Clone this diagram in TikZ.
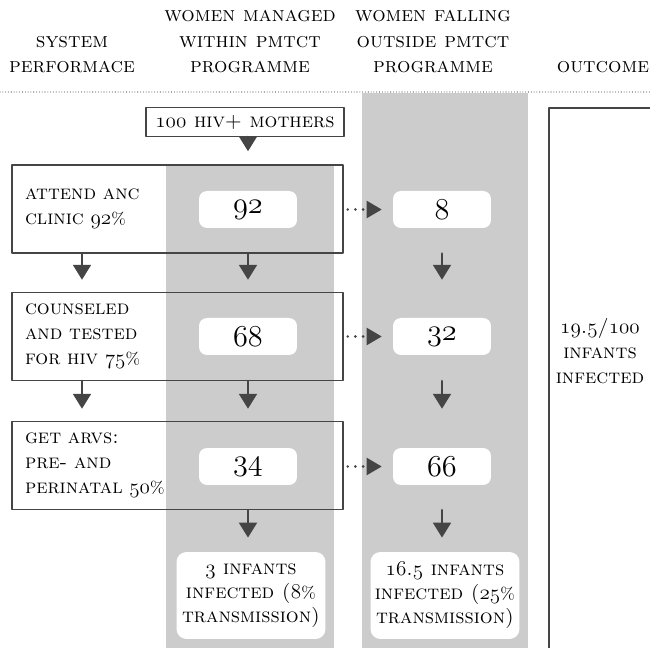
\documentclass[tikz, border = 0pt]{standalone}
\usetikzlibrary{arrows.meta}

\definecolor{colgray}{HTML}{CCCCCC}
\definecolor{ink}{HTML}{454545}

% old style figures from the math italic font
\newcommand{\os}[1]{{\usefont{OML}{cmm}{m}{it}#1}}
\newcommand{\pct}{\scalebox{0.82}{\%}}

\tikzset{
  headtext/.style = {anchor = south, align = center, inner sep = 0,
    font = \fontsize{12}{14.4}\selectfont\scshape},
  stagebox/.style = {draw = ink, line width = 0.8pt, minimum width = 6.62cm,
    minimum height = 1.76cm, text width = 6.1cm, inner xsep = 0.26cm,
    align = left, font = \fontsize{11.5}{14.2}\selectfont\scshape},
  countbox/.style = {fill = white, rounded corners = 0.16cm,
    minimum width = 1.96cm, minimum height = 0.74cm,
    font = \fontsize{17}{20}\selectfont},
  infantbox/.style = {fill = white, rounded corners = 0.2cm, align = center,
    minimum width = 2.98cm, minimum height = 1.74cm, inner sep = 0,
    font = \fontsize{11.5}{13.6}\selectfont\scshape},
  flow/.style = {ink, line width = 1.7pt,
    -{Triangle[width = 10pt, length = 8.5pt]}},
  spill/.style = {ink, line width = 1.6pt, dash pattern = on 0pt off 4.4pt,
    -{Triangle[width = 10pt, length = 8.5pt, line width = 0pt]}}
}

\begin{document}
\begin{tikzpicture}[x = 0.02cm, y = -0.02cm, line cap = round, line join = round]
  \useasboundingbox (0, 0) rectangle (650, 648);

  \fill[colgray] (166, 165) rectangle (334, 648);
  \fill[colgray] (362, 93) rectangle (528, 648);

  % headings
  \node[headtext] (hsystem) at (72, 73) {system\\performace};
  \node[headtext] (hwithin) at (250, 73) {women managed\\within pmtct\\programme};
  \node[headtext] (houtside) at (433, 73) {women falling\\outside pmtct\\programme};
  \node[headtext] (houtcome) at (603, 73) {outcome};

  \draw[ink, line width = 0.6pt, dash pattern = on 0pt off 1.6pt] (0, 92) -- (650, 92);

  % outcome column
  \draw[ink, line width = 0.8pt] (650, 108) -- (549, 108) -- (549, 648);
  \node[align = center, font = \fontsize{11.5}{14.2}\selectfont\scshape] (total)
    at (600, 351) {\os{19}.\os{5}/\os{100}\\infants\\infected};

  \node[draw = ink, line width = 0.8pt, minimum width = 3.96cm,
    minimum height = 0.58cm, inner sep = 0,
    font = \fontsize{11.5}{14.2}\selectfont\scshape] (mothers)
    at (245, 122) {\os{100} hiv+ mothers};

  % stages
  \node[stagebox] (attend) at (177.5, 209) {attend anc\\clinic \os{92}\pct};
  \node[stagebox] (counsel) at (177.5, 336.5) {counseled\\and tested\\for hiv \os{75}\pct};
  \node[stagebox] (arvs) at (177.5, 465.5) {get arvs:\\pre- and\\perinatal \os{50}\pct};

  \node[countbox] (in92) at (248, 209.5) {\os{92}};
  \node[countbox] (out8) at (442, 209.5) {\os{8}};
  \node[countbox] (in68) at (248, 336.5) {\os{68}};
  \node[countbox] (out32) at (442, 336.5) {\os{32}};
  \node[countbox] (in34) at (248, 466.5) {\os{34}};
  \node[countbox] (out66) at (442, 466.5) {\os{66}};

  \node[infantbox] (ininf) at (251, 595.5)
    {\os{3} infants\\infected (\os{8}\pct\\transmission)};
  \node[infantbox] (outinf) at (445, 595.5)
    {\os{16}.\os{5} infants\\infected (\os{25}\pct\\transmission)};

  \coordinate (lane) at (82, 0);

  % arrows
  \draw[flow, shorten > = 0.26cm] (mothers.south -| in92) -- (attend.north -| in92);
  \foreach \a/\b in {attend/counsel, counsel/arvs} {
    \draw[flow, shorten > = 0.24cm] (\a.south -| lane) -- (\b.north -| lane);
    \draw[flow, shorten > = 0.24cm] (\a.south -| in92) -- (\b.north -| in92);
    \draw[flow, shorten > = 0.24cm] (\a.south -| out8) -- (\b.north -| out8);
  }
  \draw[flow, shorten > = 0.28cm] (arvs.south -| in34) -- (ininf.north -| in34);
  \draw[flow, shorten > = 0.28cm] (arvs.south -| out66) -- (outinf.north -| out66);

  \draw[spill, shorten < = 0.08cm, shorten > = 0.22cm] (attend.east |- in92) -- (out8.west);
  \draw[spill, shorten < = 0.08cm, shorten > = 0.22cm] (counsel.east |- in68) -- (out32.west);
  \draw[spill, shorten < = 0.08cm, shorten > = 0.22cm] (arvs.east |- in34) -- (out66.west);
\end{tikzpicture}
\end{document}
